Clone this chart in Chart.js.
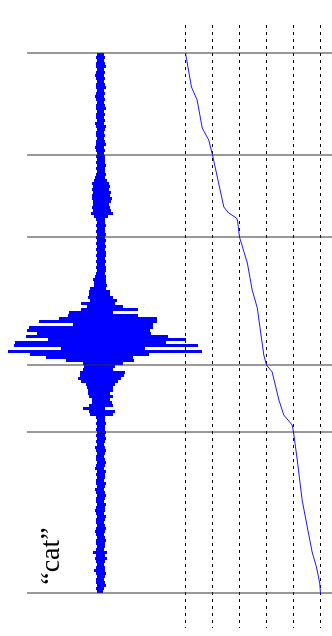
<!DOCTYPE html>
<html><head><meta charset="utf-8">
<script src="https://cdn.jsdelivr.net/npm/chart.js@4/dist/chart.umd.min.js"></script>
<style>html,body{margin:0;padding:0;background:#fff;overflow:hidden}#wrap{width:332px;height:636px;position:relative}</style>
</head><body><div id="wrap"><canvas id="c"></canvas></div>
<script>
// word label
const wordLabel = '\u201Ccat\u201D';
// waveform envelope, one row every 3 ms (amplitude in % of full scale)
const rowStepMs = 3;
const ampMinAbs = [
 3,4,3,4,4,3,4,5,4,3,4,4,3,4,5,4,3,4,4,3,4,4,3,5,4,3,4,4,3,4,4,5,4,3,
 4,3,4,3,4,3,4,5,6,8,7,8,7,8,8,7,7,8,7,9,6,4,3,4,3,4,3,4,
 3,4,3,4,3,4,3,4,3,4,3,4,5,7,6,6,10,11,11,12,10,19,13,19,31,32,41,61,27,71,73,63,74,52,85,86,39,92,70,54,34,17,16,
 17,20,20,22,19,14,13,12,12,11,8,8,11,17,11,10,4,3,4,3,4,3,
 4,3,4,3,5,4,3,4,4,3,4,5,3,4,3,4,4,3,5,4,3,4,4,3,4,5,4,3,4,4,3,4,5,4,3,4,4,3,4,7,4,5,4,3,4,6,4,3,4,4,3,4,3
];
const ampMax = [
 4,5,4,5,6,4,5,4,5,4,5,6,4,5,4,5,4,5,6,4,5,4,5,4,6,5,4,5,4,5,6,4,5,4,
 5,5,5,6,5,5,6,5,7,9,10,9,11,10,12,11,9,10,11,13,8,5,5,6,5,5,6,5,
 6,5,6,5,6,6,5,6,5,6,6,5,6,6,6,7,6,10,10,13,17,15,23,38,13,38,57,57,53,53,50,51,68,86,66,98,45,102,49,33,34,23,15,
 13,25,24,21,18,15,13,13,10,13,10,12,13,5,15,13,5,5,6,5,5,6,
 5,6,5,4,5,6,5,4,5,6,5,4,6,5,5,4,6,5,4,5,6,5,4,6,5,5,4,6,5,4,5,6,5,4,5,6,5,5,4,7,5,7,5,4,5,5,6,5,4,5,6,4,3
];
// segment boundaries (ms)
const boundaryMs = [0,102,184,312,379,540];
// frame columns
const frameIndex = [0,1,2,3,4,5];
// alignment path
const pathFrame = [0,0.22,0.43,0.62,0.86,1,1.42,1.6,1.89,1.93,2,2.29,2.47,2.66,2.72,2.9,3,3.21,3.46,3.64,3.95,4,4.14,4.32,4.51,4.69,4.85,4.97,5];
const pathTime  = [0,34,47,75,87,102,154,160,165,168,184,210,237,255,267,302,312,319,347,362,372,379,407,447,474,499,514,530,540];

// each envelope row drawn as one horizontal bar segment (min -> max), rows separated by gaps
const waveData = [];
for (let i = 0; i < ampMax.length; i++) {
  const t = i * rowStepMs + rowStepMs / 2;
  waveData.push({x: -ampMinAbs[i], y: t});
  waveData.push({x: ampMax[i], y: t});
  waveData.push({x: NaN, y: NaN});
}
const datasets = [];
datasets.push({label:'path', data: pathFrame.map((f,i)=>({x:f,y:pathTime[i]})), xAxisID:'xp', yAxisID:'y',
  borderColor:'#1a1aff', borderWidth:1, showLine:true, pointRadius:0, order:0});
boundaryMs.forEach(b => datasets.push({label:'b'+b, data:[{x:-73,y:b},{x:232,y:b}], xAxisID:'xw', yAxisID:'y',
  borderColor:'#333', borderWidth:1, showLine:true, pointRadius:0, order:1}));
frameIndex.forEach(f => datasets.push({label:'f'+f, data:[{x:f,y:-28},{x:f,y:575}], xAxisID:'xp', yAxisID:'y',
  borderColor:'#000', borderWidth:1, borderDash:[3,4], showLine:true, pointRadius:0, order:2}));
datasets.push({label:'wave', data: waveData, xAxisID:'xw', yAxisID:'y', spanGaps:false,
  borderColor:'#0000ff', borderWidth:3, borderCapStyle:'butt', showLine:true, pointRadius:0, order:3});

const labelPlugin = {
  id:'wordLabel',
  afterDatasetsDraw(chart){
    const ctx = chart.ctx;
    const px = chart.scales.xw.getPixelForValue(-41);
    const py = chart.scales.y.getPixelForValue(503);
    ctx.save();
    ctx.translate(px, py);
    ctx.rotate(-Math.PI/2);
    ctx.font = '28px "Liberation Serif"';
    ctx.fillStyle = '#000';
    ctx.textAlign = 'center';
    ctx.textBaseline = 'alphabetic';
    ctx.fillText(wordLabel, 0, 0);
    ctx.restore();
  }
};

new Chart(document.getElementById('c'), {
  type:'scatter',
  data:{datasets},
  options:{
    responsive:true, maintainAspectRatio:false, animation:false,
    layout:{padding:0},
    plugins:{legend:{display:false}, tooltip:{enabled:false}},
    elements:{point:{radius:0}, line:{tension:0}},
    scales:{
      xw:{type:'linear', position:'bottom', display:false, min:-100, max:232},
      xp:{type:'linear', position:'top', display:false, min:-185.5/27, max:-185.5/27 + 332/27},
      y:{type:'linear', display:false, reverse:true, min:-53, max:583}
    }
  },
  plugins:[labelPlugin]
});
</script>
</body></html>
